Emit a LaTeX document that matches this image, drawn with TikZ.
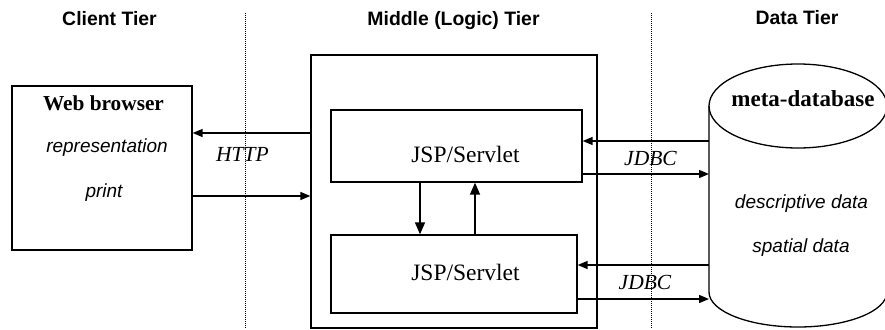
\documentclass[tikz,border=0pt]{standalone}
\usepackage{fontspec}
\setmainfont{Liberation Serif}
\setsansfont{Liberation Sans}
\usetikzlibrary{arrows.meta}

\begin{document}
\begin{tikzpicture}[x=1pt, y=-1pt,
	box/.style={draw, line width=1.3pt, inner sep=0pt},
	conn/.style={line width=1.4pt, -{Triangle[length=10pt, width=8pt]}},
	vconn/.style={line width=1.4pt, -{Triangle[length=12pt, width=10pt]}},
	divider/.style={line width=0.8pt, dash pattern=on 1pt off 1pt},
	tier/.style={anchor=base, font=\sffamily\bfseries\fontsize{19.4}{22}\selectfont},
	heading/.style={anchor=base, font=\bfseries\fontsize{21.3}{24}\selectfont},
	proto/.style={anchor=base, font=\itshape\fontsize{21.5}{24}\selectfont},
	item/.style={anchor=base, font=\sffamily\itshape\fontsize{19}{22}\selectfont},
	servlet/.style={anchor=base, font=\fontsize{23.5}{26}\selectfont}]
	\useasboundingbox (0,0) rectangle (885,329);
	% tier titles and dividers
	\node[tier] (clienttitle) at (109.5,26) {Client Tier};
	\node[tier] (middletitle) at (453.5,26) {Middle (Logic) Tier};
	\node[tier] (datatitle) at (797,25) {Data Tier};
	\draw[divider] (245.7,13) -- (245.7,329);
	\draw[divider] (651.3,13) -- (651.3,329);
	% client
	\node[box, minimum width=180pt, minimum height=164pt] (browser) at (102,168) {};
	\node[heading] (browsertitle) at (103.5,110) {Web browser};
	\node[item] (repr) at (107,152) {representation};
	\node[item] (print) at (104,197) {print};
	% middle tier
	\node[box, minimum width=286pt, minimum height=273pt] (mid) at (454,191.5) {};
	\node[box, minimum width=251pt, minimum height=72pt] (jspa) at (456.5,146) {};
	\node[box, minimum width=246pt, minimum height=78pt] (jspb) at (454,274) {};
	\node[servlet] (jspatext) at (465.5,162) {JSP/Servlet};
	\node[servlet] (jspbtext) at (465.5,280) {JSP/Servlet};
	% data tier
	\coordinate (dbtop) at (798,106);
	\coordinate (dbwall) at (709,200);
	\draw[line width=1.3pt] (709,106) -- (709,292) arc[start angle=180, end angle=0, x radius=89, y radius=35] -- (887,106);
	\draw[line width=1.3pt] (dbtop) ellipse [x radius=89, y radius=42];
	\node[heading, font=\bfseries\fontsize{23}{26}\selectfont] (metadb) at (803,106.5) {meta-database};
	\node[item] (descr) at (801.5,208) {descriptive data};
	\node[item] (spatial) at (801,252) {spatial data};
	% connectors
	\draw[conn] (mid.west |- 0,133) -- (browser.east |- 0,133);
	\draw[conn] (browser.east |- 0,196) -- (mid.west |- 0,196);
	\node[proto] (http) at (242.5,161) {HTTP};
	\draw[vconn] (jspa.south -| 420,0) -- (jspb.north -| 420,0);
	\draw[vconn] (jspb.north -| 475,0) -- (jspa.south -| 475,0);
	\draw[conn] (dbwall |- 0,141) -- (jspa.east |- 0,141);
	\draw[conn] (jspa.east |- 0,174) -- (dbwall |- 0,174);
	\node[proto] (jdbca) at (650.5,165) {JDBC};
	\draw[conn] (dbwall |- 0,265) -- (jspb.east |- 0,265);
	\draw[conn] (jspb.east |- 0,299) -- (dbwall |- 0,299);
	\node[proto] (jdbcb) at (645,289) {JDBC};
\end{tikzpicture}
\end{document}
